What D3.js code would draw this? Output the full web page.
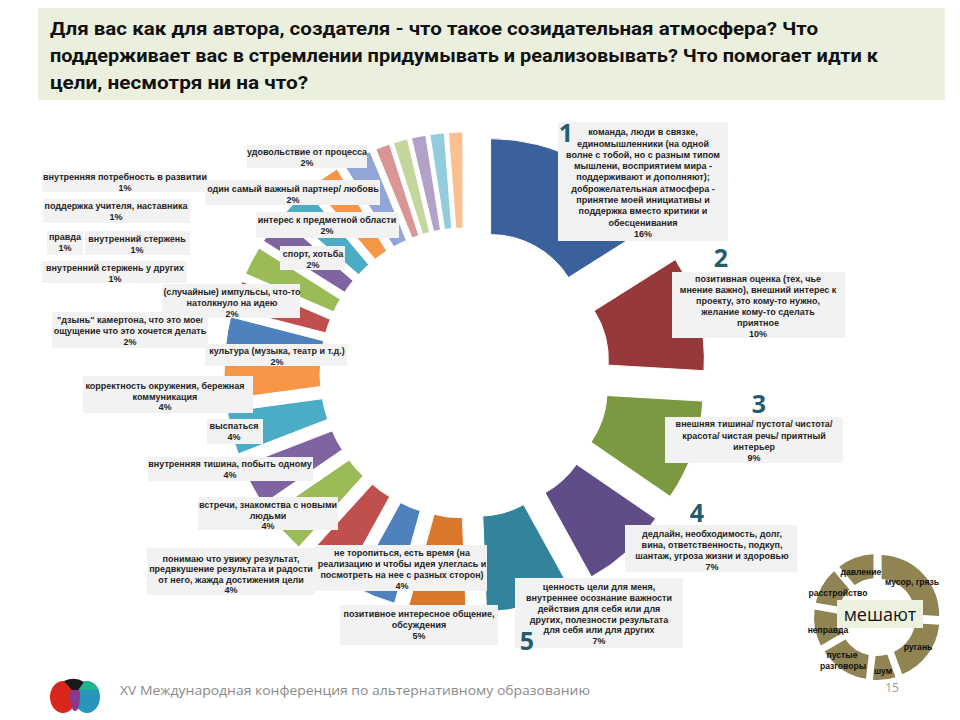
<!DOCTYPE html>
<html><head><meta charset="utf-8">
<script src="https://cdn.jsdelivr.net/npm/d3@7"></script>
<style>body{margin:0;background:#fff;} svg{display:block;}</style>
</head><body><svg id="c" width="960" height="720"></svg>
<script>
// ---------- DATA ----------
const titleLines = [
  "Для вас как для автора, создателя - что такое созидательная атмосфера? Что",
  "поддерживает вас в стремлении придумывать и реализовывать? Что помогает идти к",
  "цели, несмотря ни на что?"
];
const categories = [
  ["команда, люди в связке,","единомышленники  (на одной","волне с тобой, но с разным типом","мышлени, восприятием мира -","поддерживают и дополняют);","доброжелательная атмосфера -","принятие моей инициативы и","поддержка вместо критики и","обесценивания"],
  ["позитивная оценка (тех, чье","мнение важно), внешний интерес к","проекту, это кому-то нужно,","желание кому-то сделать","приятное"],
  ["внешняя тишина/ пустота/ чистота/","красота/ чистая речь/ приятный","интерьер"],
  ["дедлайн, необходимость, долг,","вина, ответственность, подкуп,","шантаж, угроза жизни и здоровью"],
  ["ценность цели для меня,","внутреннее осознание важности","действия для себя или для","других, полезности результата","для себя или для других"],
  ["позитивное интересное общение,","обсуждения"],
  ["не торопиться, есть время (на","реализацию и чтобы идея улеглась и","посмотреть на нее с разных сторон)"],
  ["понимаю что увижу результат,","предвкушение результата и радости","от него, жажда достижения цели"],
  ["встречи, знакомства с новыми","людьми"],
  ["внутренняя тишина, побыть одному"],
  ["выспаться"],
  ["корректность окружения, бережная","коммуникация"],
  ["культура (музыка, театр и т.д.)"],
  ["\"дзынь\" камертона, что это мое/","ощущение что это хочется делать"],
  ["(случайные) импульсы, что-то","натолкнуло на идею"],
  ["спорт, хотьба"],
  ["интерес к предметной области"],
  ["один самый важный партнер/ любовь"],
  ["удовольствие от процесса"],
  ["внутренняя потребность в развитии"],
  ["поддержка учителя, наставника"],
  ["правда"],
  ["внутренний стержень"],
  ["внутренний стержень у других"]
];
// number of mentions (percent labels = share of total)
const counts = [13,8,7,6,6,4,3,3,3,3,3,3,2,2,2,2,2,2,2,1,1,1,1,1];
const rankNumbers = ["1","2","3","4","5"];
const hinderLabels = [["давление"],["мусор, грязь"],["ругань"],["шум"],["пустые","разговоры"],["неправда"],["расстройство"]];
const hinderValues = [3,7,5,2,4,3,3];
const hinderTitle = "мешают";
const footerText = "XV Международная конференция по альтернативному образованию";
const pageNumber = "15";

// ---------- STYLE / LAYOUT ----------
const sliceColors = ["#3A619C","#97393A","#7A9940","#604C86","#31849B","#D9782A",
  "#4F81BD","#C0504D","#9BBB59","#8064A2","#4BACC6","#F79646",
  "#4F81BD","#C0504D","#9BBB59","#8064A2","#4BACC6","#F79646",
  "#91A6D6","#D99694","#C3D69B","#B3A2C7","#93CDDD","#FAC090"];
// [boxX, boxY, boxW, boxH, textCenterX, firstLineCenterY, lineHeight]
const labelLayout = [
  [558,122,170,119,643,132,11.3],
  [672,272,173,66,758,279,11],
  [665,417,178,46,754,424,11.3],
  [625,525,172,47,712,534,11],
  [515,578,168,70,599,587,10.8],
  [340,605,158,40,419,614,11],
  [315,545,172,46,402,553,11],
  [147,548,168,47,231,559,10.2],
  [198,497,140,33,268,505,10.5],
  [148,457,165,24,230,464,10.5],
  [207,419,56,25,234,426,10.5],
  [83,376,170,37,165,386,10.5],
  [205,344,142,22,277,351,10.5],
  [52,312,156,36,130,320,11],
  [162,284,138,34,232,292,10.8],
  [280,246,65,24,313,254,10.5],
  [256,212,143,26,327,220,11],
  [205,180,175,25,293,189,10.5],
  [247,145,120,23,307,152,10.5],
  [42,171,165,21,125,177,10.5],
  [43,199,147,24,116,206,11],
  [47,231,36,24,65,237,10.5],
  [85,231,105,24,137,239,10.5],
  [42,261,145,22,115,268,10.5]
];
// rank number positions [x center, baseline]
const rankPos = [[566,142],[721,267],[759,413],[697,522],[527,650]];

const svg = d3.select("#c");
const FONT = "'Liberation Sans', Arial, sans-serif";

// Title
svg.append("rect").attr("x",38).attr("y",8).attr("width",907).attr("height",92).attr("fill","#EBF0DE");
const tWidths = [768, 828, 258];
titleLines.forEach((t,i)=>{
  svg.append("text").attr("x",50).attr("y",35+i*27)
    .attr("font-family","Roboto, 'Open Sans', sans-serif").attr("font-weight","bold")
    .attr("font-size",19).attr("fill","#111")
    .attr("textLength",tWidths[i]).attr("lengthAdjust","spacingAndGlyphs").text(t);
});

// Main exploded doughnut
const C = [465,373], rIn = 92, rOut = 188, explode = 53;
const total = d3.sum(counts);
const pie = d3.pie().sort(null).value(d=>d)(counts);
const arc = d3.arc().innerRadius(rIn).outerRadius(rOut);
const gMain = svg.append("g").attr("transform",`translate(${C[0]},${C[1]})`);
gMain.selectAll("path").data(pie).join("path")
  .attr("d",arc)
  .attr("fill",(d,i)=>sliceColors[i])
  .attr("stroke","#fff").attr("stroke-width",1)
  .attr("transform",d=>{
    const b=(d.startAngle+d.endAngle)/2;
    return `translate(${explode*Math.sin(b)},${-explode*Math.cos(b)})`;
  });

// Labels
const gLab = svg.append("g");
pie.forEach((d,i)=>{
  const L = labelLayout[i];
  gLab.append("rect").attr("x",L[0]).attr("y",L[1]).attr("width",L[2]).attr("height",L[3]).attr("fill","#F2F2F2");
  const lines = categories[i].concat([Math.round(d.value/total*100)+"%"]);
  const t = gLab.append("text").attr("font-family",FONT).attr("font-weight","bold")
    .attr("font-size",9).attr("fill","#1f1f1f").attr("text-anchor","middle");
  lines.forEach((ln,j)=>{
    t.append("tspan").attr("x",L[4]).attr("y",L[5]+j*L[6]+3.2).text(ln);
  });
});
rankNumbers.forEach((n,i)=>{
  svg.append("text").attr("x",rankPos[i][0]).attr("y",rankPos[i][1])
    .attr("text-anchor","middle").attr("font-family","'Open Sans', sans-serif").attr("font-weight","bold")
    .attr("font-size",25).attr("fill","#235D6D").text(n);
});

// Small "мешают" doughnut
const SC = [877,617];
const spie = d3.pie().sort(null).value(d=>d).startAngle(-40*Math.PI/180).endAngle(320*Math.PI/180)(hinderValues);
const sarc = d3.arc().innerRadius(36).outerRadius(60).padAngle(0.07);
const gS = svg.append("g").attr("transform",`translate(${SC[0]},${SC[1]})`);
gS.selectAll("path").data(spie).join("path").attr("d",sarc).attr("fill","#8F8452")
  .attr("transform",d=>{const b=(d.startAngle+d.endAngle)/2;return `translate(${3*Math.sin(b)},${-3*Math.cos(b)})`;});
svg.append("rect").attr("x",837).attr("y",600).attr("width",86).attr("height",28).attr("fill","#EDF1E0");
svg.append("text").attr("x",880).attr("y",621).attr("text-anchor","middle").attr("font-family","'Open Sans', sans-serif")
  .attr("font-size",18).attr("fill","#111").text(hinderTitle);
const hinderPos = [[861,575],[912,585],[918,650],[883,674],[842,658],[828,633],[838,596]];
hinderLabels.forEach((ls,i)=>{
  const t = svg.append("text").attr("text-anchor","middle").attr("font-family",FONT).attr("font-weight","bold")
    .attr("font-size",8.6).attr("fill","#111");
  ls.forEach((l,j)=>t.append("tspan").attr("x",hinderPos[i][0] + (j?1:0)).attr("y",hinderPos[i][1]+j*11).text(l));
});

// Footer logo
const lg = svg.append("g");
lg.append("ellipse").attr("cx",63).attr("cy",697).attr("rx",13).attr("ry",16).attr("fill","#D9261C");
lg.append("ellipse").attr("cx",87).attr("cy",697).attr("rx",13).attr("ry",16).attr("fill","#1C8FB8").attr("opacity",0.95);
lg.append("ellipse").attr("cx",75).attr("cy",697).attr("rx",5).attr("ry",14).attr("fill","#8A3A8E");
lg.append("path").attr("d","M64,681 Q75,676 84,682 L78,690 L72,690 Z").attr("fill","#1a1a1a");
lg.append("path").attr("d","M84,682 Q94,680 99,690 L80,690 Z").attr("fill","#1FB58F");
svg.append("text").attr("x",120).attr("y",695).attr("font-family","'Open Sans', sans-serif").attr("font-size",13)
  .attr("fill","#8A8A8A").attr("textLength",470).attr("lengthAdjust","spacingAndGlyphs").text(footerText);
svg.append("text").attr("x",892).attr("y",692).attr("text-anchor","middle").attr("font-family","'Open Sans', sans-serif").attr("font-size",12)
  .attr("fill","#9A9A9A").text(pageNumber);
</script></body></html>
